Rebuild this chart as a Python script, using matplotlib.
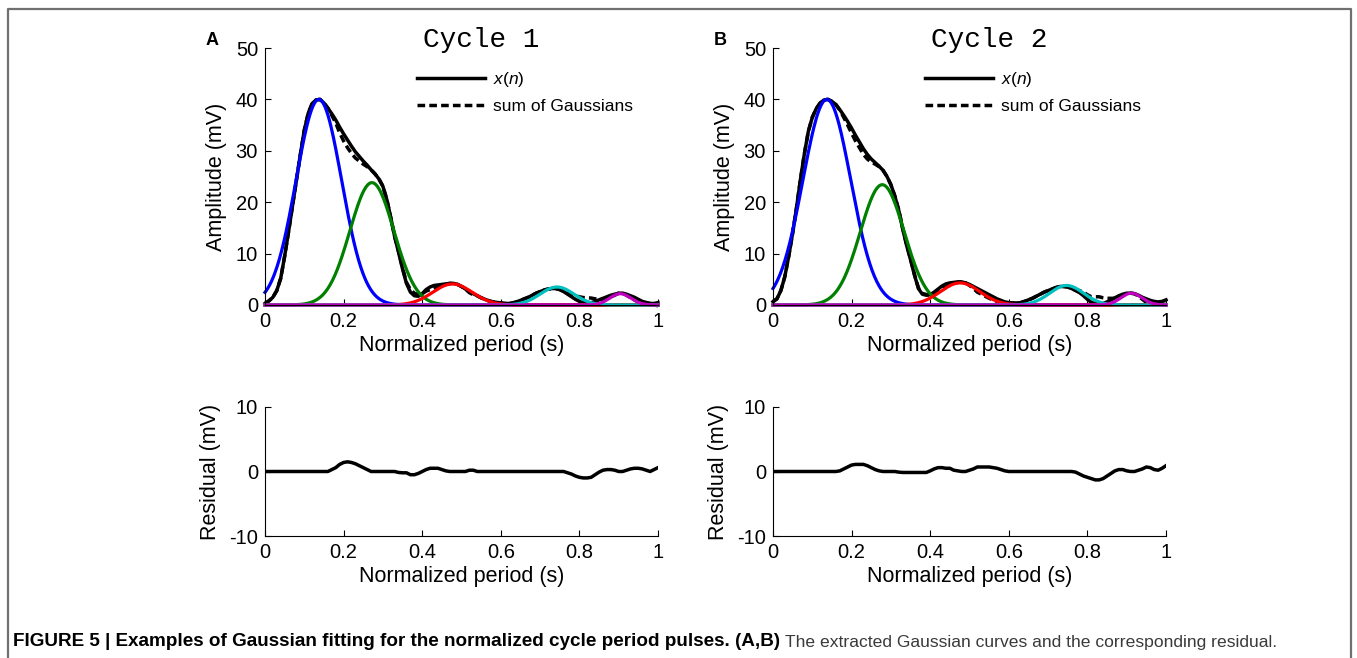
import numpy as np
import matplotlib
matplotlib.use('Agg')
import matplotlib.pyplot as plt
from matplotlib.lines import Line2D

plt.rcParams['font.family'] = ['Liberation Sans', 'DejaVu Sans']
plt.rcParams['mathtext.fontset'] = 'custom'
plt.rcParams['mathtext.it'] = 'Liberation Sans:italic'
plt.rcParams['mathtext.rm'] = 'Liberation Sans'
plt.rcParams['axes.unicode_minus'] = False

# normalized time grid (0.01 step)
t = np.round(np.arange(0, 1.001, 0.01), 2)

# measured pulse x(n), cycle 1 and cycle 2
xn_1 = [0.3, 0.8, 1.5, 2.8, 5.2, 9.5, 14.3, 19.3, 24.3, 29.3,
        34.0, 37.3, 39.2, 39.9, 40.0, 39.3, 38.3, 37.2, 36.0, 34.6,
        33.3, 32.1, 30.9, 29.8, 28.9, 28.0, 27.2, 26.3, 25.5, 24.5,
        23.1, 20.5, 17.0, 13.3, 10.2, 7.0, 4.2, 2.5, 1.8, 1.7,
        2.2, 3.0, 3.5, 3.8, 3.9, 4.0, 4.1, 4.2, 4.2, 4.0,
        3.6, 3.1, 2.6, 2.2, 1.8, 1.4, 1.1, 0.8, 0.6, 0.5,
        0.4, 0.3, 0.3, 0.4, 0.6, 0.9, 1.2, 1.5, 1.9, 2.3,
        2.6, 2.9, 3.1, 3.2, 3.2, 3.0, 2.6, 2.1, 1.6, 1.1,
        0.7, 0.45, 0.4, 0.45, 0.7, 1.0, 1.3, 1.6, 1.9, 2.1,
        2.3, 2.3, 2.1, 1.8, 1.5, 1.1, 0.7, 0.5, 0.3, 0.3,
        0.45]
xn_2 = [0.65, 1.2, 2.8, 5.5, 9.5, 14.0, 19.0, 24.5, 29.5, 33.8,
        36.5, 38.2, 39.3, 39.9, 40.0, 39.6, 39.0, 38.0, 36.9, 35.7,
        34.4, 33.0, 31.7, 30.4, 29.3, 28.4, 27.7, 27.0, 26.2, 25.0,
        23.4, 21.2, 18.4, 14.8, 11.6, 8.8, 5.8, 3.2, 2.1, 1.9,
        2.0, 2.5, 3.1, 3.7, 4.1, 4.3, 4.4, 4.5, 4.5, 4.3,
        4.0, 3.6, 3.2, 2.8, 2.4, 2.0, 1.6, 1.2, 0.9, 0.6,
        0.45, 0.4, 0.4, 0.45, 0.7, 1.0, 1.3, 1.7, 2.1, 2.5,
        2.8, 3.1, 3.4, 3.6, 3.6, 3.5, 3.2, 2.8, 2.4, 1.8,
        1.1, 0.5, 0.3, 0.3, 0.3, 0.6, 1.0, 1.4, 1.8, 2.1,
        2.3, 2.3, 2.2, 1.9, 1.5, 1.2, 0.9, 0.7, 0.6, 0.7,
        1.0]

# residual (x(n) - sum of Gaussians)
res_1 = [0] * 17 + [0.3, 0.6, 1.1, 1.4, 1.5, 1.4, 1.2, 0.9, 0.6, 0.3,
                    0, 0, 0, 0, 0, 0, 0, -0.15, -0.2, -0.2,
                    -0.5, -0.5, -0.3, 0.0, 0.3, 0.5, 0.5, 0.5, 0.3, 0.1,
                    0, 0, 0, 0, 0, 0.2, 0.2, 0] + [0] * 22 + \
        [-0.2, -0.4, -0.7, -0.9, -1.0, -1.0, -0.9, -0.5, -0.1, 0.2,
         0.3, 0.3, 0.2, 0, 0, 0.2, 0.4, 0.5, 0.5, 0.4,
         0.2, 0, 0.3, 0.6]
res_2 = [0] * 17 + [0.1, 0.4, 0.7, 1.0, 1.1, 1.1, 1.1, 0.9, 0.6, 0.3,
                    0.1, 0, 0, 0, 0, -0.1, -0.15, -0.15, -0.15, -0.15,
                    -0.15, -0.15, -0.15, 0.1, 0.4, 0.6, 0.6, 0.5, 0.5, 0.2,
                    0.1, 0, 0, 0.2, 0.4, 0.7, 0.7, 0.7, 0.7, 0.6,
                    0.5, 0.3, 0.1, 0] + [0] * 16 + \
        [-0.1, -0.4, -0.7, -0.9, -1.1, -1.3, -1.3, -1.1, -0.7, -0.3,
         0.1, 0.3, 0.3, 0.1, 0, 0, 0.2, 0.4, 0.7, 0.6,
         0.3, 0.2, 0.5, 0.9]

# fitted Gaussian components: amplitude (mV), centre, width
amp_1 = [40.0, 23.8, 4.1, 3.5, 2.2]
mu_1 = [0.137, 0.272, 0.477, 0.743, 0.904]
sig_1 = [0.058, 0.056, 0.05, 0.043, 0.027]
amp_2 = [40.0, 23.4, 4.3, 3.8, 2.3]
mu_2 = [0.137, 0.278, 0.476, 0.747, 0.912]
sig_2 = [0.061, 0.056, 0.05, 0.043, 0.027]

titles = ['Cycle 1', 'Cycle 2']
letters = ['A', 'B']
comp_colors = ['#0000ff', '#008000', '#ff0000', '#00bfbf', '#bf00bf']
xtick_labels = ['0', '0.2', '0.4', '0.6', '0.8', '1']

fig = plt.figure(figsize=(13.57, 6.58), dpi=100)

# outer frame of the figure panel
fig.add_artist(Line2D([8 / 1357, 8 / 1357, 1351 / 1357, 1351 / 1357],
                      [0, 1 - 9 / 658, 1 - 9 / 658, 0],
                      transform=fig.transFigure, color='#707070', lw=1.6))

lefts = [265 / 1357, 773 / 1357]
width = 393 / 1357
data = [(xn_1, res_1, amp_1, mu_1, sig_1), (xn_2, res_2, amp_2, mu_2, sig_2)]
tfine = np.linspace(0, 1, 501)

for k in range(2):
    xn, res, amp, mu, sig = data[k]
    xn = np.array(xn)
    res = np.array(res)

    ax = fig.add_axes([lefts[k], 1 - 305 / 658, width, 257 / 658])
    ax.plot(t, xn, color='k', lw=2.5, clip_on=False, label='$x(n)$')
    ax.plot(t, xn - res, color='k', lw=2.5, ls=(0, (2.2, 1.2)), clip_on=False,
            label='sum of Gaussians')
    for a, m, s, c in zip(amp, mu, sig, comp_colors):
        ax.plot(tfine, a * np.exp(-(tfine - m) ** 2 / (2 * s ** 2)), color=c,
                lw=2.3, clip_on=False)
    ax.set_xlim(0, 1)
    ax.set_ylim(0, 50)
    ax.set_xticks(np.arange(0, 1.01, 0.2))
    ax.set_xticklabels(xtick_labels)
    ax.set_yticks([0, 10, 20, 30, 40, 50])
    ax.set_xlabel('Normalized period (s)', fontsize=15.5, labelpad=3)
    ax.set_ylabel('Amplitude (mV)', fontsize=15.5, labelpad=6)
    ax.text(0.55, 1.03, titles[k], transform=ax.transAxes, ha='center',
            va='center', fontsize=20, family='Liberation Mono')
    ax.text(-0.135, 1.03, letters[k], transform=ax.transAxes, ha='center',
            va='center', fontsize=13, fontweight='bold')
    ax.legend(loc='upper left', bbox_to_anchor=(0.37, 0.94), frameon=False,
              fontsize=12.5, handlelength=3.9, handletextpad=0.45,
              labelspacing=0.55, borderaxespad=0)

    ax2 = fig.add_axes([lefts[k], 1 - 536 / 658, width, 129 / 658])
    ax2.plot(t, res, color='k', lw=2.5)
    ax2.set_xlim(0, 1)
    ax2.set_ylim(-10, 10)
    ax2.set_xticks(np.arange(0, 1.01, 0.2))
    ax2.set_xticklabels(xtick_labels)
    ax2.set_yticks([-10, 0, 10])
    ax2.set_xlabel('Normalized period (s)', fontsize=15.5, labelpad=3)
    ax2.set_ylabel('Residual (mV)', fontsize=15.5, labelpad=6)

    for a_ in (ax, ax2):
        a_.spines['top'].set_visible(False)
        a_.spines['right'].set_visible(False)
        a_.spines['left'].set_linewidth(0.8)
        a_.spines['bottom'].set_linewidth(0.8)
        a_.tick_params(direction='in', labelsize=14.5, length=4, width=0.8, pad=5)

# caption: bold lead-in followed by regular text
cap_y = 1 - 642 / 658
bold_txt = fig.text(13 / 1357, cap_y,
                    'FIGURE 5 | Examples of Gaussian fitting for the normalized cycle period pulses. (A,B)',
                    fontsize=13.6, fontweight='bold', va='center', ha='left')
renderer = fig.canvas.get_renderer()
bb = bold_txt.get_window_extent(renderer=renderer)
fig.text((bb.x1 + 5) / 1357, cap_y,
         'The extracted Gaussian curves and the corresponding residual.',
         fontsize=12.6, color='#3a3a3a', va='center', ha='left')

fig.savefig('out.png', dpi=100)
